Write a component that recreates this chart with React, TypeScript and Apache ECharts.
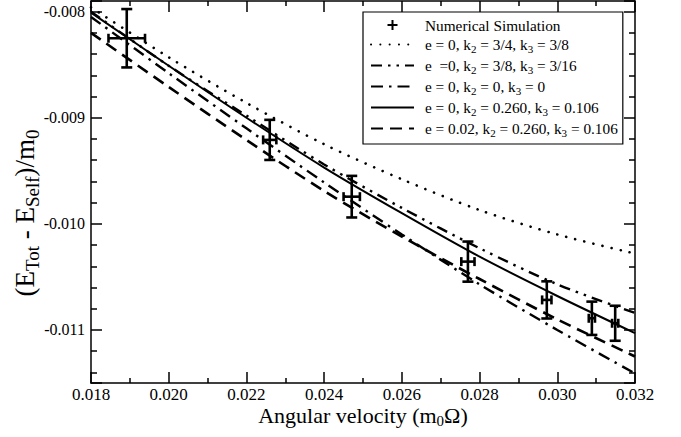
import React, { useEffect, useRef } from 'react';
import * as echarts from 'echarts';

// Model curves (angular velocity grid and energies)
const omega = [0.018, 0.020, 0.022, 0.024, 0.026, 0.028, 0.030, 0.032];
const energyDotted = [-0.00796, -0.00843, -0.00886, -0.00925, -0.00958, -0.00987, -0.01010, -0.01028];
const energyDashDotDot = [-0.00800, -0.00851, -0.00898, -0.00944, -0.00985, -0.01023, -0.01057, -0.01084];
const energyDashDot = [-0.00805, -0.00858, -0.00910, -0.00961, -0.01010, -0.01057, -0.01100, -0.01141];
const energySolid = [-0.00801, -0.00851, -0.00900, -0.00947, -0.00990, -0.01031, -0.01068, -0.01103];
const energyDashed = [-0.00820, -0.00871, -0.00921, -0.00969, -0.01012, -0.01052, -0.01090, -0.01125];

// Numerical simulation points with error bars
const simOmega = [0.01892, 0.02260, 0.02471, 0.02770, 0.02973, 0.03089, 0.03149];
const simEnergy = [-0.008251, -0.009209, -0.009744, -0.010356, -0.010717, -0.010890, -0.010937];
const simOmegaErr = [0.00047, 0.00017, 0.00021, 0.00017, 0.00012, 0.00008, 0.00008];
const simEnergyErr = [0.000275, 0.000189, 0.000196, 0.000189, 0.000175, 0.000157, 0.000165];

const simName = 'Numerical Simulation';
const curveNames = [
  'e = 0, k2 = 3/4, k3 = 3/8',
  'e  =0, k2 = 3/8, k3 = 3/16',
  'e = 0, k2 = 0, k3 = 0',
  'e = 0, k2 = 0.260, k3 = 0.106',
  'e = 0.02, k2 = 0.260, k3 = 0.106',
];
const curveLabels = [
  'e = 0, k{s|2} = 3/4, k{s|3} = 3/8',
  'e  =0, k{s|2} = 3/8, k{s|3} = 3/16',
  'e = 0, k{s|2} = 0, k{s|3} = 0',
  'e = 0, k{s|2} = 0.260, k{s|3} = 0.106',
  'e = 0.02, k{s|2} = 0.260, k{s|3} = 0.106',
];
const curveValues = [energyDotted, energyDashDotDot, energyDashDot, energySolid, energyDashed];

const xTitle = 'Angular velocity (m{s|0}Ω)';
const yTitle = '(E{s|Tot} - E{s|Self})/m{s|0}';

const FONT = 'Liberation Serif';

export default function App() {
  const ref = useRef<HTMLDivElement>(null);
  useEffect(() => {
    const chart = echarts.init(ref.current!, null, { renderer: 'svg' });

    const lineStyles: any[] = [
      { color: '#000', width: 2.6, type: [0.1, 9.2], cap: 'round' },
      { color: '#000', width: 2.4, type: [11, 6, 2.5, 6, 2.5, 6] },
      { color: '#000', width: 2.4, type: [12, 6, 2.5, 6] },
      { color: '#000', width: 2, type: 'solid' },
      { color: '#000', width: 2.6, type: [12, 7] },
    ];

    const frame = { color: '#000', width: 1.5 };
    const xBase: any = {
      type: 'value', min: 0.018, max: 0.032, interval: 0.002,
      axisLine: { show: true, onZero: false, lineStyle: frame },
      axisTick: { show: true, inside: true, length: 11, lineStyle: frame },
      minorTick: { show: true, splitNumber: 2, length: 5, lineStyle: frame },
      splitLine: { show: false },
      minorSplitLine: { show: false },
    };
    const yBase: any = {
      type: 'value', min: -0.0115, max: -0.0079, splitNumber: 5,
      axisLine: { show: true, onZero: false, lineStyle: frame },
      axisTick: { show: true, inside: true, length: 11, lineStyle: frame },
      minorTick: { show: true, splitNumber: 5, length: 6, lineStyle: frame },
      splitLine: { show: false },
      minorSplitLine: { show: false },
    };
    const isMajor = (v: number) => Math.abs(v * 1000 - Math.round(v * 1000)) < 1e-6;

    const series: any[] = curveNames.map((name, i) => ({
      name,
      type: 'line',
      xAxisIndex: 0,
      yAxisIndex: 0,
      symbol: 'none',
      smooth: 0.3,
      lineStyle: lineStyles[i],
      itemStyle: { color: '#000' },
      data: omega.map((x, j) => [x, curveValues[i][j]]),
      z: 2,
    }));

    series.unshift({
      name: simName,
      type: 'custom',
      xAxisIndex: 0,
      yAxisIndex: 0,
      itemStyle: { color: '#000' },
      encode: { x: 0, y: 1 },
      data: simOmega.map((x, j) => [x, simEnergy[j], simOmegaErr[j], simEnergyErr[j]]),
      z: 5,
      renderItem: (params: any, api: any) => {
        const x = api.value(0), y = api.value(1), xe = api.value(2), ye = api.value(3);
        const top = api.coord([x, y + ye]);
        const bot = api.coord([x, y - ye]);
        const l = api.coord([x - xe, y]);
        const r = api.coord([x + xe, y]);
        const vc = 5.5, hc = 4.5;
        const style = { stroke: '#000', lineWidth: 2.6, fill: 'none' };
        const seg = (x1: number, y1: number, x2: number, y2: number) => ({
          type: 'line', shape: { x1, y1, x2, y2 }, style,
        });
        return {
          type: 'group',
          children: [
            seg(top[0], top[1], bot[0], bot[1]),
            seg(top[0] - vc, top[1], top[0] + vc, top[1]),
            seg(bot[0] - vc, bot[1], bot[0] + vc, bot[1]),
            seg(l[0], l[1], r[0], r[1]),
            seg(l[0], l[1] - hc, l[0], l[1] + hc),
            seg(r[0], r[1] - hc, r[0], r[1] + hc),
          ],
        };
      },
    });

    const labelMap: Record<string, string> = { [simName]: simName };
    curveNames.forEach((n, i) => (labelMap[n] = curveLabels[i]));

    const option: any = {
      animation: false,
      color: ['#000'],
      backgroundColor: '#fff',
      grid: { left: 91, right: 46, top: 1, bottom: 54 },
      xAxis: [
        {
          ...xBase,
          position: 'bottom',
          axisLabel: {
            show: true, margin: 4, color: '#000', fontFamily: FONT, fontSize: 17, lineHeight: 14,
            formatter: (v: number) => v.toFixed(3),
          },
          name: xTitle,
          nameLocation: 'middle',
          nameGap: 24,
          nameMoveOverlap: false,
          nameTextStyle: {
            color: '#000', fontFamily: FONT, fontSize: 22, lineHeight: 17,
            rich: { s: { color: '#000', fontFamily: FONT, fontSize: 15, lineHeight: 7, padding: [10, 0, 0, 0] } },
          },
        },
        { ...xBase, position: 'top', axisLabel: { show: false } },
      ],
      yAxis: [
        {
          ...yBase,
          position: 'left',
          axisLabel: {
            show: true, margin: 6, color: '#000', fontFamily: FONT, fontSize: 16,
            showMinLabel: false, showMaxLabel: false,
            formatter: (v: number) => (isMajor(v) ? v.toFixed(3) : ''),
          },
        },
        { ...yBase, position: 'right', axisLabel: { show: false } },
      ],
      graphic: [
        {
          type: 'text',
          x: 25,
          y: 213,
          rotation: Math.PI / 2,
          silent: true,
          style: {
            text: yTitle,
            fill: '#000',
            fontFamily: FONT,
            fontSize: 27,
            lineHeight: 27,
            align: 'center',
            verticalAlign: 'middle',
            rich: { s: { fill: '#000', fontFamily: FONT, fontSize: 19, lineHeight: 13, padding: [14, 0, 0, 0] } },
          },
        },
      ],
      legend: {
        left: 363, top: 12, orient: 'vertical', align: 'left',
        itemWidth: 43, itemHeight: 10, itemGap: 2,
        padding: [5, 5, 6, 7],
        borderColor: '#000', borderWidth: 1.2, backgroundColor: '#fff',
        selectedMode: false,
        textStyle: {
          fontFamily: FONT, fontSize: 15.3, color: '#000', lineHeight: 16,
          rich: {
            s: { fontFamily: FONT, fontSize: 11, color: '#000', lineHeight: 8, padding: [8, 0, 0, 0] },
            g: { width: 6, lineHeight: 16, fontSize: 15.3 },
          },
        },
        formatter: (name: string) => '{g| }' + labelMap[name],
        data: [
          { name: simName, icon: 'path://M4,0h2v4h4v2h-4v4h-2v-4h-4v-2h4z' },
          ...curveNames.map((n) => ({ name: n, itemStyle: { opacity: 0 } })),
        ],
      },
      series,
    };

    chart.setOption(option);
    return () => chart.dispose();
  }, []);

  return <div ref={ref} style={{ position: 'fixed', left: 0, top: 0, width: 681, height: 437 }} />;
}
